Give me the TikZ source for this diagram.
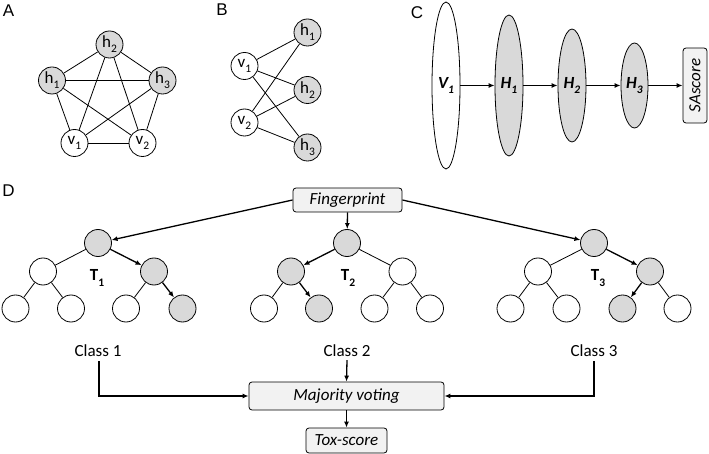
\documentclass[tikz,border=0pt]{standalone}
\usepackage{fontspec}
\setmainfont{Carlito}
\newfontfamily\labfont{Liberation Sans}
\usetikzlibrary{arrows.meta,shapes.geometric,backgrounds}
\definecolor{nodegray}{HTML}{D9D9D9}
\definecolor{boxgray}{HTML}{F2F2F2}
\newcommand\lsub[1]{\raisebox{-0.3em}{\fontsize{11.5}{11.5}\selectfont #1}}
\begin{document}
\begin{tikzpicture}[x=1pt,y=-1pt,
  wnode/.style={circle,draw,line width=0.8pt,fill=white,minimum size=27pt,inner sep=0pt,font=\fontsize{17}{17}\selectfont},
  gnode/.style={wnode,fill=nodegray},
  edge/.style={line width=0.8pt},
  arr/.style={line width=1.3pt,-{Latex[length=6pt,width=5pt]}},
  panel/.style={font=\labfont\fontsize{17}{17}\selectfont},
  rbox/.style={draw,line width=0.8pt,rounded corners=3pt,fill=boxgray,inner sep=0pt,font=\fontsize{17}{17}\selectfont\itshape},
  ell/.style={ellipse,draw,line width=0.8pt,inner sep=0pt,font=\fontsize{17}{17}\selectfont\bfseries\itshape},
  cls/.style={font=\fontsize{17}{17}\selectfont,inner sep=1pt},
  tlab/.style={font=\fontsize{17}{17}\selectfont\bfseries}
]
\useasboundingbox (0,0) rectangle (709,454);

% panel labels
\node[panel] at (8.5,11) {A};
\node[panel] at (222,10) {B};
\node[panel] at (417,13) {C};
\node[panel] at (8.5,191) {D};

% ---------- A ----------
\node[gnode] (ah2) at (109.5,44.5) {h\lsub{2}};
\node[gnode] (ah1) at (52,80.5) {h\lsub{1}};
\node[gnode] (ah3) at (162.5,80.5) {h\lsub{3}};
\node[wnode] (av1) at (74.5,143) {v\lsub{1}};
\node[wnode] (av2) at (142.5,143) {v\lsub{2}};
\begin{scope}[on background layer]
\foreach \a/\b in {ah2/ah1,ah2/ah3,ah2/av1,ah2/av2,ah1/ah3,ah1/av1,ah1/av2,ah3/av1,ah3/av2,av1/av2}
  \draw[edge] (\a) -- (\b);
\end{scope}

% ---------- B ----------
\node[gnode] (bh1) at (307.5,32.5) {h\lsub{1}};
\node[gnode] (bh2) at (307.5,90) {h\lsub{2}};
\node[gnode] (bh3) at (307.5,147.5) {h\lsub{3}};
\node[wnode] (bv1) at (244.5,66) {v\lsub{1}};
\node[wnode] (bv2) at (244.5,122.5) {v\lsub{2}};
\begin{scope}[on background layer]
\foreach \a in {bv1,bv2}
  \foreach \b in {bh1,bh2,bh3}
    \draw[edge] (\a) -- (\b);
\end{scope}

% ---------- C ----------
\node[ell,fill=white,minimum width=28pt,minimum height=167pt] (cv1) at (446,85.5) {V\lsub{1}};
\node[ell,fill=nodegray,minimum width=28pt,minimum height=141pt] (ch1) at (509,85.5) {H\lsub{1}};
\node[ell,fill=nodegray,minimum width=28pt,minimum height=113pt] (ch2) at (572,85.5) {H\lsub{2}};
\node[ell,fill=nodegray,minimum width=27pt,minimum height=85pt] (ch3) at (634.5,85.5) {H\lsub{3}};
\node[rbox,rotate=90,minimum width=75pt,minimum height=24pt] (sa) at (695,85.5) {SAscore};
\draw[arr] (cv1) -- (ch1);
\draw[arr] (ch1) -- (ch2);
\draw[arr] (ch2) -- (ch3);
\draw[arr] (ch3) -- (sa);

% ---------- D ----------
\node[rbox,minimum width=109pt,minimum height=24pt] (fp) at (347.5,200) {Fingerprint};

% tree 1
\node[gnode] (t1r) at (98,243) {};
\node[wnode] (t1a) at (43,271.5) {};
\node[gnode] (t1b) at (154,271.5) {};
\node[wnode] (t1l1) at (15.5,308.5) {};
\node[wnode] (t1l2) at (71,308.5) {};
\node[wnode] (t1l3) at (126,308.5) {};
\node[gnode] (t1l4) at (182.5,308.5) {};
\node[tlab] at (97,278) {T\lsub{1}};
\draw[edge] (t1r) -- (t1a);
\draw[edge] (t1a) -- (t1l1);
\draw[edge] (t1a) -- (t1l2);
\draw[edge] (t1b) -- (t1l3);
\draw[arr] (t1r) -- (t1b);
\draw[arr] (t1b) -- (t1l4);

% tree 2
\node[gnode] (t2r) at (347,243) {};
\node[gnode] (t2a) at (291,271.5) {};
\node[wnode] (t2b) at (402.5,271.5) {};
\node[wnode] (t2l1) at (264,308.5) {};
\node[gnode] (t2l2) at (319,308.5) {};
\node[wnode] (t2l3) at (374.5,308.5) {};
\node[wnode] (t2l4) at (430,308.5) {};
\node[tlab] at (348,278) {T\lsub{2}};
\draw[edge] (t2r) -- (t2b);
\draw[edge] (t2a) -- (t2l1);
\draw[edge] (t2b) -- (t2l3);
\draw[edge] (t2b) -- (t2l4);
\draw[arr] (t2r) -- (t2a);
\draw[arr] (t2a) -- (t2l2);

% tree 3
\node[gnode] (t3r) at (594,243) {};
\node[wnode] (t3a) at (538,271.5) {};
\node[gnode] (t3b) at (650,271.5) {};
\node[wnode] (t3l1) at (510.5,308.5) {};
\node[wnode] (t3l2) at (566.5,308.5) {};
\node[gnode] (t3l3) at (622.5,308.5) {};
\node[wnode] (t3l4) at (677.5,308.5) {};
\node[tlab] at (598,278) {T\lsub{3}};
\draw[edge] (t3r) -- (t3a);
\draw[edge] (t3a) -- (t3l1);
\draw[edge] (t3a) -- (t3l2);
\draw[edge] (t3b) -- (t3l4);
\draw[arr] (t3r) -- (t3b);
\draw[arr] (t3b) -- (t3l3);

% fingerprint arrows
\draw[arr] (fp.west) -- (t1r);
\draw[arr] (fp.south) -- (t2r);
\draw[arr] (fp.east) -- (t3r);

% classes and voting
\node[cls] (c1) at (98,351) {Class 1};
\node[cls] (c2) at (347,351) {Class 2};
\node[cls] (c3) at (594,351) {Class 3};
\node[rbox,minimum width=195pt,minimum height=28pt] (mv) at (346.5,396) {Majority voting};
\node[rbox,minimum width=81pt,minimum height=25pt] (tox) at (346.5,440.5) {Tox-score};
\draw[arr] ([xshift=1pt,yshift=-3pt]c1.south) |- (mv.west);
\draw[arr] ([yshift=-3pt]c3.south) |- (mv.east);
\draw[arr] ([yshift=-2pt]c2.south) -- (mv.north);
\draw[arr] (mv.south) -- (tox.north);
\end{tikzpicture}
\end{document}
